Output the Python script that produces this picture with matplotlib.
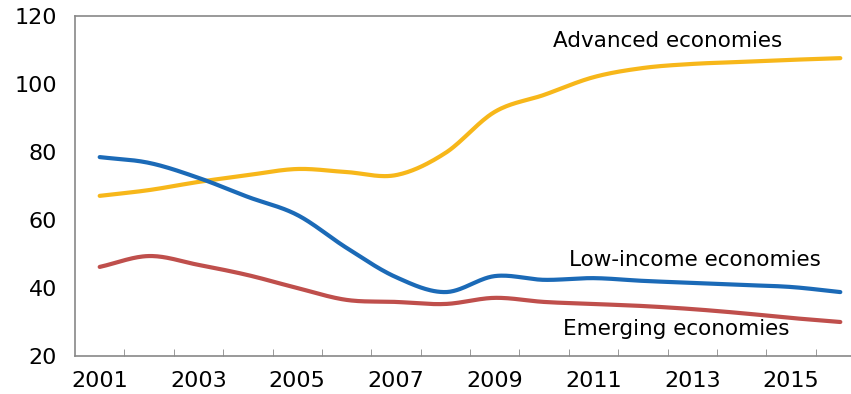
import numpy as np
import matplotlib
matplotlib.use("Agg")
import matplotlib.pyplot as plt

plt.rcParams['font.family'] = ['DejaVu Sans']

years = list(range(2001, 2017))
advanced = [67.1, 68.8, 71.2, 73.2, 75.0, 74.1, 73.2, 79.7, 91.8, 96.8,
            102.0, 104.7, 105.9, 106.5, 107.1, 107.6]
low_income = [78.5, 76.8, 72.4, 66.8, 61.5, 51.8, 43.2, 38.8, 43.5, 42.4,
              42.9, 42.1, 41.5, 40.9, 40.3, 38.8]
emerging = [46.2, 49.4, 46.8, 43.8, 40.0, 36.5, 35.9, 35.3, 37.1, 35.9,
            35.3, 34.7, 33.8, 32.6, 31.2, 30.0]
tick_years = [2001, 2003, 2005, 2007, 2009, 2011, 2013, 2015]


def smooth(x, y, n=30):
    # catmull-rom, close to excel's "smoothed line"
    x = np.asarray(x, float)
    y = np.asarray(y, float)
    px = np.concatenate([[2 * x[0] - x[1]], x, [2 * x[-1] - x[-2]]])
    py = np.concatenate([[2 * y[0] - y[1]], y, [2 * y[-1] - y[-2]]])
    xs, ys = [], []
    t = np.linspace(0, 1, n, endpoint=False)
    for i in range(1, len(px) - 2):
        for p, out in ((px, xs), (py, ys)):
            p0, p1, p2, p3 = p[i - 1], p[i], p[i + 1], p[i + 2]
            out.extend(0.5 * (2 * p1 + (-p0 + p2) * t
                              + (2 * p0 - 5 * p1 + 4 * p2 - p3) * t ** 2
                              + (-p0 + 3 * p1 - 3 * p2 + p3) * t ** 3))
    xs.append(x[-1])
    ys.append(y[-1])
    return xs, ys


fig = plt.figure(figsize=(8.51, 3.94), dpi=100)
ax = fig.add_axes([75 / 851, 1 - 356 / 394, 790 / 851, 340 / 394])

ax.plot(*smooth(years, advanced), color='#F7B71A', lw=3, solid_capstyle='round')
ax.plot(*smooth(years, low_income), color='#1B6AB7', lw=3, solid_capstyle='round')
ax.plot(*smooth(years, emerging), color='#BF4F4C', lw=3, solid_capstyle='round')

ax.set_xlim(2000.5, 2016.5)
ax.set_ylim(20, 120)
ax.set_yticks(range(20, 121, 20))
ax.set_xticks(tick_years)
ax.set_xticks(np.arange(2001.5, 2016, 1), minor=True)
ax.tick_params(axis='x', which='major', length=0, pad=11, labelsize=16)
ax.tick_params(axis='x', which='minor', direction='in', length=5, color='#888888')
ax.tick_params(axis='y', length=0, pad=13, labelsize=16)

for s in ['left', 'bottom', 'top']:
    ax.spines[s].set_color('#888888')
    ax.spines[s].set_linewidth(1.2)
ax.spines['right'].set_visible(False)

ax.text(2012.5, 112.6, 'Advanced economies', fontsize=15.5, ha='center', va='center')
ax.text(2013.06, 48.2, 'Low-income economies', fontsize=15.5, ha='center', va='center')
ax.text(2012.67, 28.0, 'Emerging economies', fontsize=15.5, ha='center', va='center')

fig.savefig('out.png', dpi=100)
